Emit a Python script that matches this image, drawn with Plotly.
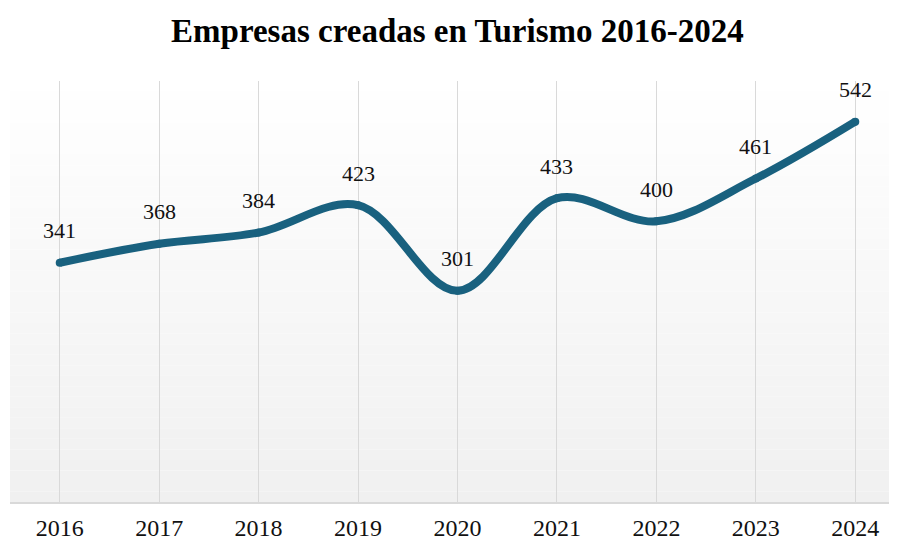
import plotly.graph_objects as go

years = ["2016", "2017", "2018", "2019", "2020", "2021", "2022", "2023", "2024"]
empresas = [341, 368, 384, 423, 301, 433, 400, 461, 542]

line_color = "#19617f"
font_family = "Liberation Serif, Times New Roman, serif"

fig = go.Figure()
fig.add_trace(go.Scatter(
    x=list(range(len(years))), y=empresas,
    mode="lines+markers",
    line=dict(color=line_color, width=8, shape="spline", smoothing=1.0),
    marker=dict(color=line_color, size=8),
    hoverinfo="skip",
))

for i, v in enumerate(empresas):
    fig.add_annotation(x=i, y=v, text=str(v), showarrow=False, yshift=32,
                       font=dict(family=font_family, size=22, color="#111111"))

# vertical gradient background (white -> light gray)
n = 40
shapes = []
for k in range(n):
    t = (k + 0.5) / n
    g = int(round(255 - (255 - 240) * t))
    shapes.append(dict(type="rect", xref="paper", yref="paper",
                       x0=0, x1=1, y0=1 - (k + 1) / n, y1=1 - k / n,
                       fillcolor=f"rgb({g},{g},{g})", line=dict(width=0),
                       layer="below"))
fig.update_layout(shapes=shapes)

fig.update_layout(
    width=897, height=541,
    margin=dict(l=2, r=0, t=73, b=47),
    paper_bgcolor="white", plot_bgcolor="rgba(0,0,0,0)",
    showlegend=False,
    title=dict(text="<b>Empresas creadas en Turismo 2016-2024</b>",
               x=0.501, xanchor="center", y=0.959, yanchor="middle",
               font=dict(family=font_family, size=33, color="#000000")),
    xaxis=dict(range=[-0.5, 8.5], tickmode="array",
               tickvals=list(range(len(years))), ticktext=years,
               showgrid=True, gridcolor="#d9d9d9", gridwidth=1,
               showline=True, linecolor="#d9d9d9", linewidth=2,
               zeroline=False, ticks="outside", ticklen=3,
               tickcolor="rgba(0,0,0,0)",
               tickfont=dict(family=font_family, size=24, color="#111111")),
    yaxis=dict(range=[0, 600], showgrid=False, zeroline=False,
               showticklabels=False, showline=False),
)
fig.update_xaxes(layer="below traces")

fig.write_html("out.html")
